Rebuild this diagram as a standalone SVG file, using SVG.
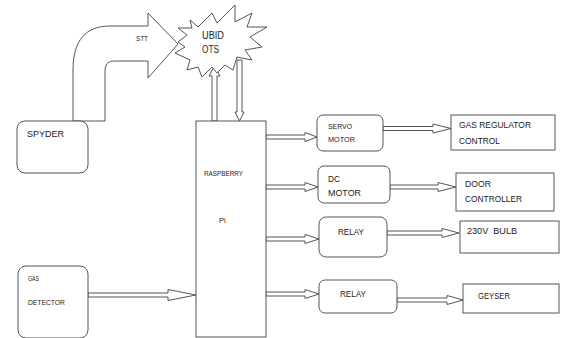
<svg xmlns="http://www.w3.org/2000/svg" width="562" height="338" viewBox="0 0 562 338">
<style>
.box{fill:#fff;stroke:#555;stroke-width:1}
.arr{fill:#fff;stroke:#555;stroke-width:1;stroke-linejoin:miter}
text{font-family:"Liberation Sans",Arial,sans-serif;fill:#222}
</style>
<rect width="562" height="338" fill="#fff"/>
<g id="connectors">
  <path class="arr" d="M73,121 V70 C73,40 86,26 110,26 H148 V13 L178,44 L148,78 V61 H115 C108,61 105,64 105,72 V121 Z"/>
  <path class="arr" d="M212,121 V76 H209 L214.5,66 L220,76 H217 V121 Z"/>
  <path class="arr" d="M237,60 V112 H235 L239.5,121 L244,112 H242 V60 Z"/>
  <path class="arr" d="M266,135 H305 V132.5 L317,137 L305,141.5 V139 H266 Z"/>
  <path class="arr" d="M266,185 H305 V182.5 L318,187 L305,191.5 V189 H266 Z"/>
  <path class="arr" d="M266,237 H305 V234.5 L319,239 L305,243.5 V241 H266 Z"/>
  <path class="arr" d="M266,292 H305 V289.5 L319,294 L305,298.5 V296 H266 Z"/>
  <path class="arr" d="M88,293 H168 V289.5 L196,295 L168,300.5 V297 H88 Z"/>
  <path class="arr" d="M383,126.5 H433 V124 L451,128.5 L433,133 V130.5 H383 Z"/>
  <path class="arr" d="M390,185 H438 V182.5 L456,187 L438,191.5 V189 H390 Z"/>
  <path class="arr" d="M387,231 H442 V228.5 L459,233 L442,237.5 V235 H387 Z"/>
  <path class="arr" d="M397,298 H447 V295.5 L463,300 L447,304.5 V302 H397 Z"/>
</g>
<g id="stt"><text x="136" y="41" font-size="8" textLength="12" lengthAdjust="spacingAndGlyphs">STT</text></g>
<g id="ubidots">
  <polygon class="box" points="190,20 198,27 212,13 217,23 235,5 235,22 252,13 247,27 267,27 250,37 262,47 245,50 252,60 237,57 233,70 225,65 217,73 212,67 202,77 198,67 187,70 190,60 175,53 185,47 178,42 187,35 178,28 192,28"/>
  <text x="202" y="39" font-size="10" textLength="22" lengthAdjust="spacingAndGlyphs">UBID</text>
  <text x="202" y="53" font-size="10" textLength="17" lengthAdjust="spacingAndGlyphs">OTS</text>
</g>
<g id="spyder">
  <rect class="box" x="17" y="121" width="71" height="52" rx="8"/>
  <text x="27" y="137" font-size="9" textLength="37" lengthAdjust="spacingAndGlyphs">SPYDER</text>
</g>
<g id="gasdetector">
  <rect class="box" x="18" y="266" width="70" height="72" rx="8"/>
  <text x="28" y="281" font-size="7" textLength="11" lengthAdjust="spacingAndGlyphs">GAS</text>
  <text x="28" y="305" font-size="7.5" textLength="37" lengthAdjust="spacingAndGlyphs">DETECTOR</text>
</g>
<g id="raspberry">
  <rect class="box" x="196" y="121" width="70" height="216"/>
  <text x="204" y="176" font-size="7" textLength="39" lengthAdjust="spacingAndGlyphs">RASPBERRY</text>
  <text x="219" y="223" font-size="7.5">Pi</text>
</g>
<g id="servo">
  <rect class="box" x="317" y="115" width="66" height="36" rx="6"/>
  <text x="328" y="129" font-size="7.2" textLength="24" lengthAdjust="spacingAndGlyphs">SERVO</text>
  <text x="328" y="142" font-size="7.8" textLength="27" lengthAdjust="spacingAndGlyphs">MOTOR</text>
</g>
<g id="dcmotor">
  <rect class="box" x="318" y="166" width="72" height="37" rx="6"/>
  <text x="328" y="182" font-size="9" textLength="12" lengthAdjust="spacingAndGlyphs">DC</text>
  <text x="328" y="196" font-size="9" textLength="33" lengthAdjust="spacingAndGlyphs">MOTOR</text>
</g>
<g id="relay1">
  <rect class="box" x="319" y="217" width="68" height="40" rx="7"/>
  <text x="338" y="235" font-size="8.5" textLength="26" lengthAdjust="spacingAndGlyphs">RELAY</text>
</g>
<g id="relay2">
  <rect class="box" x="319" y="280" width="78" height="33" rx="6"/>
  <text x="340" y="297" font-size="8.5" textLength="26" lengthAdjust="spacingAndGlyphs">RELAY</text>
</g>
<g id="gasregulator">
  <rect class="box" x="451" y="115" width="104" height="35"/>
  <text x="459" y="128" font-size="9.2" textLength="72" lengthAdjust="spacingAndGlyphs">GAS REGULATOR</text>
  <text x="459" y="144" font-size="9.2" textLength="41" lengthAdjust="spacingAndGlyphs">CONTROL</text>
</g>
<g id="door">
  <rect class="box" x="456" y="173" width="98" height="38"/>
  <text x="465" y="187" font-size="8.8" textLength="26" lengthAdjust="spacingAndGlyphs">DOOR</text>
  <text x="465" y="202" font-size="8.8" textLength="57" lengthAdjust="spacingAndGlyphs">CONTROLLER</text>
</g>
<g id="bulb">
  <rect class="box" x="460" y="221" width="99" height="32"/>
  <text x="467" y="234" font-size="9" textLength="50" lengthAdjust="spacingAndGlyphs" xml:space="preserve">230V  BULB</text>
</g>
<g id="geyser">
  <rect class="box" x="463" y="284" width="96" height="29"/>
  <text x="478" y="299" font-size="9" textLength="32" lengthAdjust="spacingAndGlyphs">GEYSER</text>
</g>
</svg>
